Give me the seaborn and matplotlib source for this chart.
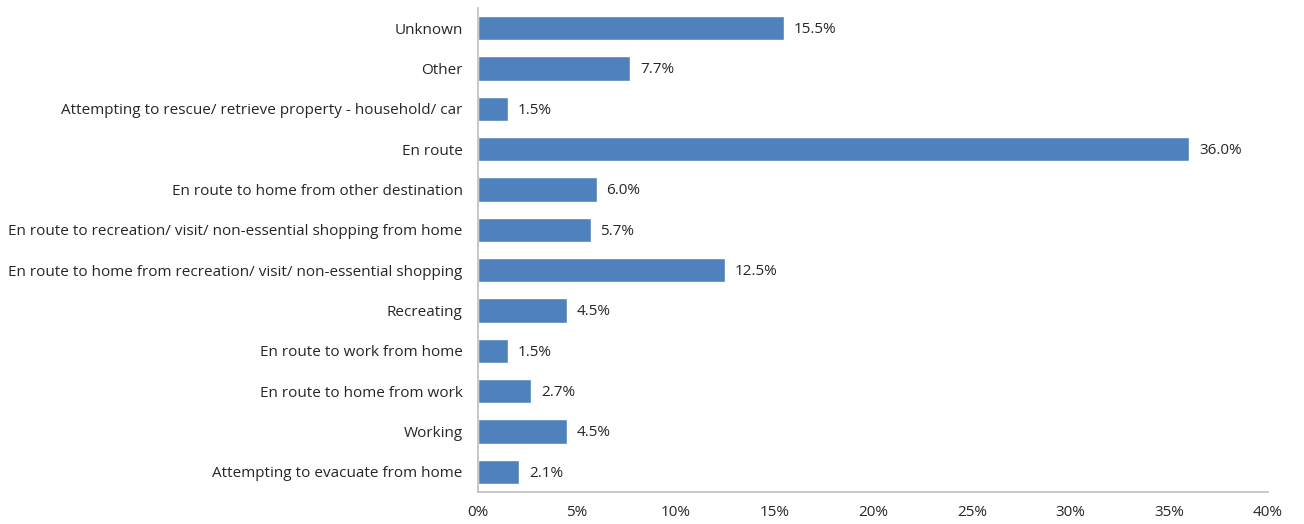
import matplotlib
matplotlib.use("Agg")
import matplotlib.pyplot as plt
import seaborn as sns
import pandas as pd

categories = [
    "Unknown",
    "Other",
    "Attempting to rescue/ retrieve property - household/ car",
    "En route",
    "En route to home from other destination",
    "En route to recreation/ visit/ non-essential shopping from home",
    "En route to home from recreation/ visit/ non-essential shopping",
    "Recreating",
    "En route to work from home",
    "En route to home from work",
    "Working",
    "Attempting to evacuate from home",
]
values = [15.5, 7.7, 1.5, 36.0, 6.0, 5.7, 12.5, 4.5, 1.5, 2.7, 4.5, 2.1]
x_ticks = [0, 5, 10, 15, 20, 25, 30, 35, 40]

df = pd.DataFrame({"activity": categories, "pct": values})

sns.set_theme(style="white")
plt.rcParams["font.family"] = ["Open Sans", "DejaVu Sans"]

fig = plt.figure(figsize=(13.04, 5.24), dpi=100)
ax = fig.add_axes([478 / 1304, 1 - 492 / 524, (1268 - 478) / 1304, 484 / 524])

sns.barplot(data=df, x="pct", y="activity", orient="h", color="#4F81BD",
            saturation=1, width=0.6, ax=ax)

for i, v in enumerate(values):
    ax.text(v + 0.5, i + 0.03, f"{v:.1f}%", va="center", ha="left",
            fontsize=11, color="#262626")

ax.set_xlim(0, 40)
ax.set_ylim(len(categories) - 0.5, -0.5)
ax.set_xticks(x_ticks)
ax.set_xticklabels([f"{t}%" for t in x_ticks], fontsize=11, color="#262626")
ax.tick_params(axis="y", labelsize=11, labelcolor="#262626", length=0, pad=11)
ax.tick_params(axis="x", length=0, pad=9)
ax.set_xlabel("")
ax.set_ylabel("")

for side in ["top", "right"]:
    ax.spines[side].set_visible(False)
for side in ["left", "bottom"]:
    ax.spines[side].set_color("#BFBFBF")
    ax.spines[side].set_linewidth(1.2)

fig.savefig("out.png", dpi=100)
